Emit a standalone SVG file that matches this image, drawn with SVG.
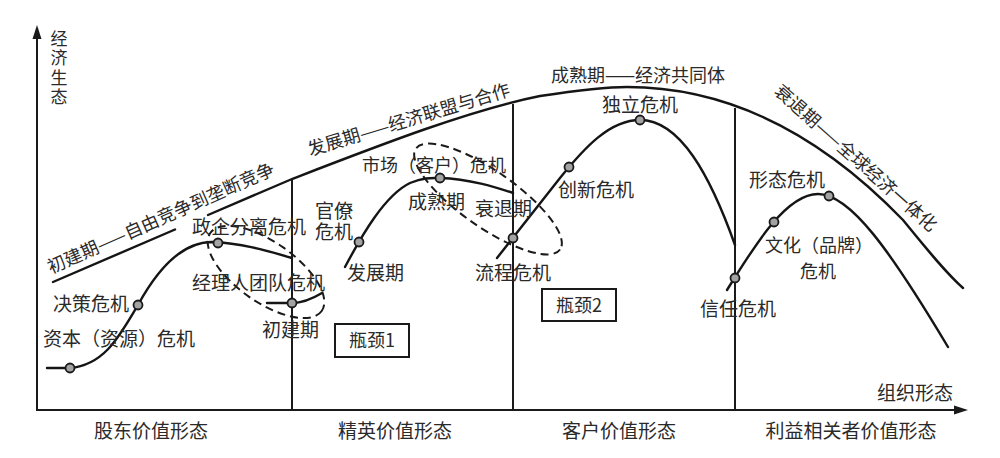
<svg xmlns="http://www.w3.org/2000/svg" width="1000" height="458" viewBox="0 0 1000 458">
<style>
.t{font-family:"Noto Sans CJK SC","Noto Sans CJK JP",sans-serif;font-size:19px;fill:#2a2a2a}
.s18{font-size:18px}
.s17{font-size:17px}
.m{text-anchor:middle}
.vt{writing-mode:vertical-rl;letter-spacing:2.5px}
.ln{fill:none;stroke:#151515;stroke-width:2.4;stroke-linecap:round}
.ax{fill:none;stroke:#1a1a1a;stroke-width:2}
.dv{fill:none;stroke:#1a1a1a;stroke-width:2}
.el{fill:none;stroke:#1a1a1a;stroke-width:2;stroke-dasharray:8 5}
.pt{fill:#a3a3a3;stroke:#1a1a1a;stroke-width:1.8}
.bx{fill:#fff;stroke:#1a1a1a;stroke-width:2}
</style>
<rect width="1000" height="458" fill="#fff"/>
<g id="connectors">
  <g id="axes">
    <line class="ax" x1="37" y1="410" x2="37" y2="36"/>
    <polygon points="37,25 32.5,39 41.5,39" fill="#1a1a1a"/>
    <line class="ax" x1="36" y1="410" x2="956" y2="410"/>
    <polygon points="968,410 954,405.5 954,414.5" fill="#1a1a1a"/>
  </g>
  <g id="dividers">
    <line class="dv" x1="292" y1="179" x2="292" y2="410"/>
    <line class="dv" x1="513" y1="104" x2="513" y2="410"/>
    <line class="dv" x1="735" y1="108" x2="735" y2="410"/>
  </g>
  <g id="envelope">
    <line class="ln" x1="53" y1="282" x2="175" y2="229.5"/>
    <path class="ln" d="M208,215 L292,179 C380,145 470,110 540,96 C580,90 605,87 627,87 C730,87 822,136 903,220 C925,247 945,272 963,288"/>
  </g>
  <g id="curves">
    <path class="ln" d="M47,368 L70,368 C105,365 120,335 138,305 C156,272 180,242 212,242 C240,243 265,250 292,258"/>
    <path class="ln" d="M267,303 L292,303 C300,303 312,299 322,293"/>
    <path class="ln" d="M345,267 C362,235 385,195 410,183 C425,177 432,178 440,178 C470,179 495,187 513,193"/>
    <path class="ln" d="M497,258 L560,178 C585,147 610,120 640,120 C680,120 710,175 735,245"/>
    <path class="ln" d="M727,290 C752,250 785,194 818,194 C850,194 890,250 948,347"/>
  </g>
  <g id="bottlenecks">
    <ellipse class="el" cx="266" cy="272" rx="68" ry="30" transform="rotate(35 266 272)"/>
    <ellipse class="el" cx="488" cy="199" rx="88" ry="28" transform="rotate(35 488 199)"/>
  </g>
</g>
<g id="points">
  <circle class="pt" cx="70" cy="368" r="4.5"/>
  <circle class="pt" cx="138" cy="305" r="4.5"/>
  <circle class="pt" cx="218" cy="243" r="4.5"/>
  <circle class="pt" cx="292" cy="303" r="4.5"/>
  <circle class="pt" cx="359" cy="242" r="4.5"/>
  <circle class="pt" cx="440" cy="178" r="4.5"/>
  <circle class="pt" cx="513" cy="238" r="4.5"/>
  <circle class="pt" cx="569" cy="167" r="4.5"/>
  <circle class="pt" cx="640" cy="120" r="4.5"/>
  <circle class="pt" cx="735" cy="278" r="4.5"/>
  <circle class="pt" cx="774" cy="222" r="4.5"/>
  <circle class="pt" cx="829" cy="196" r="4.5"/>
</g>
<g id="axis-labels">
  <text class="t s17 vt" x="59" y="30">经济生态</text>
  <text class="t" x="877" y="400">组织形态</text>
</g>
<g id="stage-labels">
  <text class="t s18" transform="translate(51,274) rotate(-24)">初建期——自由竞争到垄断竞争</text>
  <text class="t s18" transform="translate(310,156) rotate(-16.8)">发展期——经济联盟与合作</text>
  <text class="t s18 m" x="638" y="82">成熟期——经济共同体</text>
  <text class="t s18" transform="translate(773,93) rotate(41.6)">衰退期——全球经济一体化</text>
</g>
<g id="stage1">
  <text class="t" x="43" y="346">资本（资源）危机</text>
  <text class="t" x="53" y="311">决策危机</text>
  <text class="t" x="192" y="234">政企分离危机</text>
  <text class="t" x="192" y="290">经理人团队危机</text>
  <text class="t" x="262" y="337">初建期</text>
</g>
<g id="stage2">
  <text class="t" x="315" y="218"><tspan x="315" y="218">官僚</tspan><tspan x="315" y="239">危机</tspan></text>
  <text class="t" x="347" y="280">发展期</text>
  <text class="t s18" x="362" y="172">市场（客户）危机</text>
  <text class="t" x="408" y="209">成熟期</text>
  <text class="t" x="475" y="216">衰退期</text>
  <text class="t" x="475" y="280">流程危机</text>
</g>
<g id="stage3">
  <text class="t" x="558" y="197">创新危机</text>
  <text class="t" x="602" y="112">独立危机</text>
  <text class="t" x="700" y="316">信任危机</text>
</g>
<g id="stage4">
  <text class="t" x="749" y="187">形态危机</text>
  <text class="t s18" x="765" y="252"><tspan x="765" y="252">文化（品牌）</tspan><tspan x="800" y="278">危机</tspan></text>
</g>
<g id="bottleneck1">
  <rect class="bx" x="335" y="324" width="74" height="33"/>
  <text class="t s18 m" x="372" y="347">瓶颈1</text>
</g>
<g id="bottleneck2">
  <rect class="bx" x="542" y="289" width="74" height="32"/>
  <text class="t s18 m" x="579" y="312">瓶颈2</text>
</g>
<g id="forms">
  <text class="t m" x="151" y="438">股东价值形态</text>
  <text class="t m" x="395" y="438">精英价值形态</text>
  <text class="t m" x="619" y="438">客户价值形态</text>
  <text class="t m" x="851" y="438">利益相关者价值形态</text>
</g>
</svg>
